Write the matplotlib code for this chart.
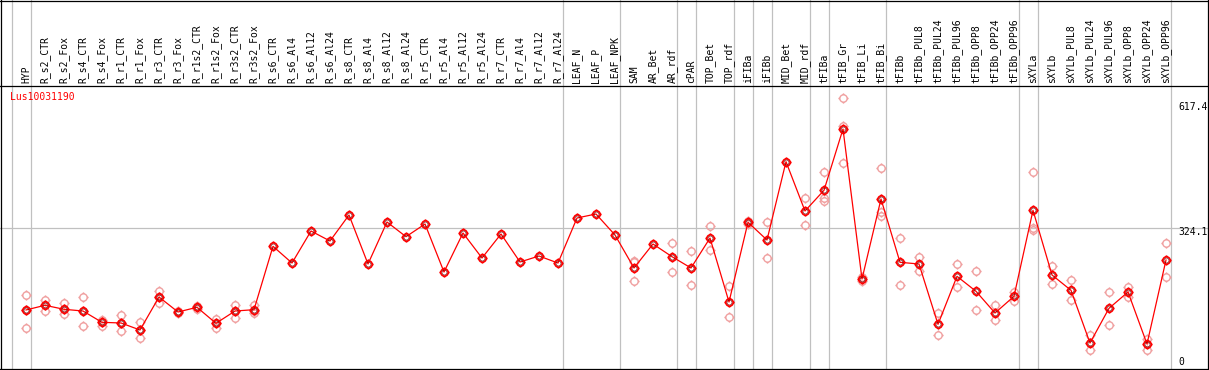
import matplotlib
matplotlib.use("Agg")
import matplotlib.pyplot as plt
from matplotlib.path import Path
from matplotlib.transforms import blended_transform_factory

gene = "Lus10031190"

samples = [
    "HYP", "R_s2_CTR", "R_s2_Fox", "R_s4_CTR", "R_s4_Fox", "R_r1_CTR", "R_r1_Fox",
    "R_r3_CTR", "R_r3_Fox", "R_r1s2_CTR", "R_r1s2_Fox", "R_r3s2_CTR", "R_r3s2_Fox",
    "R_s6_CTR", "R_s6_Al4", "R_s6_Al12", "R_s6_Al24", "R_s8_CTR", "R_s8_Al4",
    "R_s8_Al12", "R_s8_Al24", "R_r5_CTR", "R_r5_Al4", "R_r5_Al12", "R_r5_Al24",
    "R_r7_CTR", "R_r7_Al4", "R_r7_Al12", "R_r7_Al24", "LEAF_N", "LEAF_P", "LEAF_NPK",
    "SAM", "AR_Bet", "AR_rdf", "cPAR", "TOP_Bet", "TOP_rdf", "iFIBa", "iFIBb",
    "MID_Bet", "MID_rdf", "tFIBa", "tFIB_Gr", "tFIB_Li", "tFIB_Bi", "tFIBb",
    "tFIBb_PUL8", "tFIBb_PUL24", "tFIBb_PUL96", "tFIBb_OPP8", "tFIBb_OPP24",
    "tFIBb_OPP96", "sXYLa", "sXYLb", "sXYLb_PUL8", "sXYLb_PUL24", "sXYLb_PUL96",
    "sXYLb_OPP8", "sXYLb_OPP24", "sXYLb_OPP96",
]

means = [
    140, 150.5, 141.5, 137.6, 112.1, 110.6, 94.8, 169.2, 135.4, 146.0, 109.9, 137.6, 140.6,
    283.6, 245.9, 318.1, 295.6, 354.2, 243.7, 338.4, 305.3, 333.9, 225.6, 313.6, 257.2,
    311.4, 248.2, 261.7, 245.9, 347.5, 356.5, 309.1,
    234.7, 288.8, 260.2, 234.7, 302.3, 157.9, 337.8, 297.8,
    474.5, 363.3, 410.0, 548.3, 209.8, 390.3, 247.5,
    243.7, 107.6, 215.9, 182.1, 133.1, 170.8,
    364.8, 218.9, 184.3, 65.4, 143.7, 180.5, 63.2, 252.7,
]

replicates = [
    [173.1, 139.9, 98.6], [162.5, 150.5, 138.3], [155.7, 141.5, 130.2], [168.5, 137.6, 103.1],
    [117.3, 112.0, 104.5], [128.6, 111.0, 91.8], [112.8, 95.0, 76.0], [182.8, 169.0, 155.0],
    [138.3, 132.4], [148.9, 143.0], [120.3, 110.0, 98.6], [151.2, 138.0, 122.5],
    [151.2, 137.0, 133.8],
    [], [], [], [], [], [], [], [], [], [], [], [], [], [], [], [], [], [], [],
    [249.8, 249.0, 204.6], [], [290.4, 225.0], [272.3, 195.6], [328.7, 274.6],
    [193.4, 123.4], [341.4, 334.0], [337.8, 256.5],
    [], [391.9, 331.0], [451.3, 391.9, 386.5], [617.6, 555.8, 471.6], [215.0, 204.6],
    [459.6, 361.7, 351.3], [301.7, 196.3],
    [259.5, 227.2], [132.4, 82.8], [243.0, 191.1], [227.2, 139.9], [150.5, 116.7],
    [180.5, 160.9],
    [451.3, 324.2, 320.4], [238.5, 198.6], [206.9, 162.5], [82.8, 49.0], [179.8, 105.4],
    [192.5, 169.9], [75.1, 49.0], [291.1, 213.7],
]

# vertical separators drawn after these sample indices
separators = [-1, 0, 28, 31, 34, 35, 37, 38, 39, 41, 42, 45, 52, 53, 60]
grid_value = 324.1
axis_labels = ["617.4", "324.1", "0"]

W, H = 1209, 370
fig = plt.figure(figsize=(W / 100, H / 100), dpi=100)
ax = fig.add_axes([0, 0, 1, 1])
ax.set_axis_off()

# pixel mapping: column i at x = 26 + 19 i, value v at y = 372 - 0.4432 v
ax.set_xlim(-26 / 19, (W - 26) / 19)
ax.set_ylim((372 - H) / 0.4432, 372 / 0.4432)

def fy(py):
    return 1 - py / H

def fx(px):
    return px / W

grey = "#c0c0c0"
for k in separators:
    ax.axvline(k + 0.245, color=grey, lw=0.9, zorder=1)
ax.axhline(grid_value, xmin=0, xmax=fx(1207), color=grey, lw=0.9, zorder=1)

# borders
lw_b = 0.9
fig.add_artist(plt.Line2D([fx(0.6), fx(0.6)], [fy(0), fy(369.5)], color="black", lw=lw_b))
fig.add_artist(plt.Line2D([fx(1207.6), fx(1207.6)], [fy(0), fy(369.5)], color="black", lw=lw_b))
fig.add_artist(plt.Line2D([fx(0), fx(1208)], [fy(0.6), fy(0.6)], color="black", lw=lw_b))
fig.add_artist(plt.Line2D([fx(0), fx(1208)], [fy(369.3), fy(369.3)], color="black", lw=lw_b))
fig.add_artist(plt.Line2D([fx(0), fx(1208)], [fy(85.6), fy(85.6)], color="black", lw=lw_b))

# circle marker with four small ticks
circ = Path.unit_circle()
ticks = [Path([(0, 1), (0, 1.4)]), Path([(0, -1), (0, -1.4)]),
         Path([(1, 0), (1.4, 0)]), Path([(-1, 0), (-1.4, 0)])]
tick_circle = Path.make_compound_path(circ, *ticks)

faint = "#f0a0a0"
xs_rep, ys_rep = [], []
for i, reps in enumerate(replicates):
    for r in reps:
        xs_rep.append(i)
        ys_rep.append(r)
ax.plot(xs_rep, ys_rep, ls="none", marker=tick_circle, ms=7.4, mfc="none",
        mec=faint, mew=1.0, zorder=2)

xs = list(range(len(samples)))
ax.plot(xs, means, color="red", lw=0.9, zorder=3)
ax.plot(xs, means, ls="none", marker=tick_circle, ms=7.4, mfc="none",
        mec="red", mew=1.2, zorder=4)
ax.plot(xs, means, ls="none", marker="o", ms=3.6, mfc="none",
        mec="#700000", mew=0.45, zorder=5)

font = ["DejaVu Sans Mono"]
trans = blended_transform_factory(ax.transData, fig.transFigure)
for i, name in enumerate(samples):
    ax.text(i, fy(83), name, rotation=90, ha="center", va="bottom",
            fontsize=7, family=font, transform=trans)

fig.text(fx(10), fy(97), gene, color="red", fontsize=7, family=font,
         ha="left", va="center")

for lab, py in zip(axis_labels, [107, 232, 362]):
    fig.text(fx(1178), fy(py), lab, color="black", fontsize=7, family=font,
             ha="left", va="center")

fig.savefig("out.png", dpi=100)
